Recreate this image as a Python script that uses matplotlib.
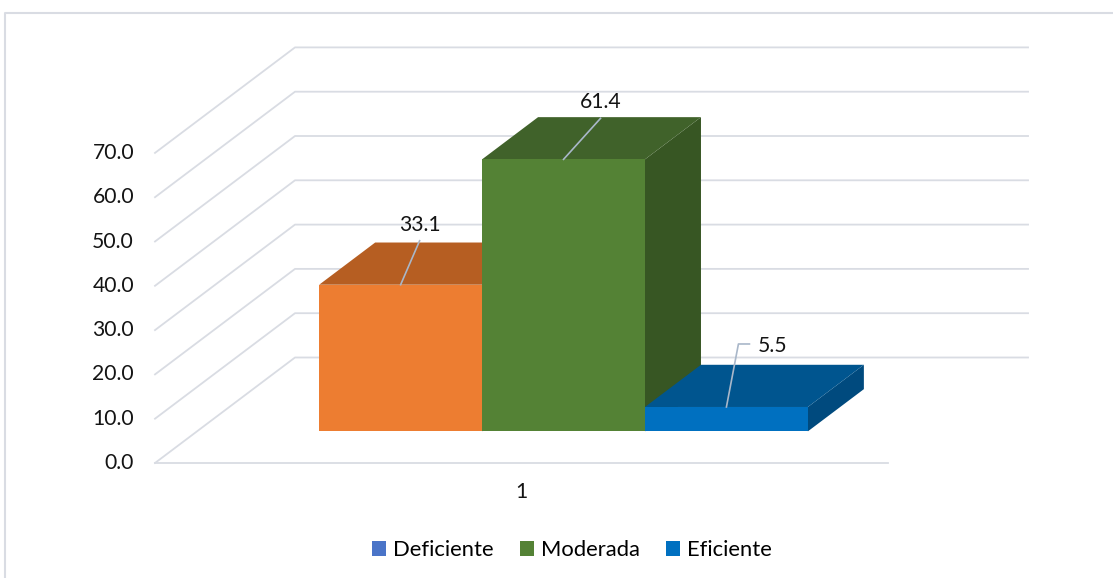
import matplotlib.pyplot as plt
from matplotlib.patches import Polygon, Patch
from matplotlib.lines import Line2D
import numpy as np

plt.rcParams['font.family'] = ['Lato', 'DejaVu Sans']

# data
series = ['Deficiente', 'Moderada', 'Eficiente']
values = [33.1, 61.4, 5.5]
category = '1'
yticks = np.arange(0, 80, 10)

# colours: front, top, side
front_cols = ['#ED7D31', '#548235', '#0070C0']
top_cols = ['#B65E22', '#40622A', '#00558F']
side_cols = ['#B65E22', '#375623', '#004A7E']
legend_cols = ['#4A74C8', '#548235', '#0070C0']
grid_col = '#D9DCE3'
lead_col = '#A9B7C9'
txt_col = '#141414'
fs = 15.2

W, H = 1113, 578
fig = plt.figure(figsize=(W / 100, H / 100), dpi=100)
ax = fig.add_axes([0, 0, 1, 1])
ax.axis('off')

# pixel scale of the front plane
ux, uy = 162.9, 4.43
ox, oy = 155, 463
ax.set_xlim(-ox / ux, (W - ox) / ux)
ax.set_ylim(-(H - oy) / uy, oy / uy)

# oblique depth vector and floor width (in bar widths)
DX, DY = 140 / ux, 105.5 / uy
floor_w = 4.5
gap = 0.75
d0, d1 = 0.3, 0.7


def proj(x, v, d):
    return (x + d * DX, v + d * DY)


# back wall / side wall gridlines
for v in yticks:
    pts = [proj(0, v, 0), proj(0, v, 1), proj(floor_w, v, 1)]
    ax.plot(*zip(*pts), color=grid_col, lw=1.3, zorder=1)
    ax.text(-21 / ux, v, '%.1f' % v, ha='right', va='center', fontsize=fs, color=txt_col)
ax.plot([0, floor_w], [0, 0], color=grid_col, lw=1.3, zorder=1)

ax.text(floor_w / 2, -6.5, category, ha='center', va='center', fontsize=fs, color=txt_col)

# bars
for i, val in enumerate(values):
    xl = gap + i
    xr = xl + 1
    side = [proj(xr, 0, d0), proj(xr, 0, d1), proj(xr, val, d1), proj(xr, val, d0)]
    top = [proj(xl, val, d0), proj(xr, val, d0), proj(xr, val, d1), proj(xl, val, d1)]
    front = [proj(xl, 0, d0), proj(xr, 0, d0), proj(xr, val, d0), proj(xl, val, d0)]
    ax.add_patch(Polygon(side, closed=True, fc=side_cols[i], ec='none', zorder=2 + i))
    ax.add_patch(Polygon(top, closed=True, fc=top_cols[i], ec='none', zorder=2 + i))
    ax.add_patch(Polygon(front, closed=True, fc=front_cols[i], ec='none', zorder=2 + i))

# data labels with leader lines
label_off = [(19, 60), (37, 57), (46, 61)]
for i, val in enumerate(values):
    ax_, ay_ = proj(gap + i + 0.5, val, d0)
    dxp, dyp = label_off[i]
    lx, ly = ax_ + dxp / ux, ay_ + dyp / uy
    if i == 2:
        pts = [(ax_, ay_), (ax_ + 12 / ux, ay_ + 63 / uy), (ax_ + 23 / ux, ay_ + 63 / uy)]
    else:
        pts = [(ax_, ay_), (lx, ly - 16 / uy)]
    ax.plot(*zip(*pts), color=lead_col, lw=1.2, zorder=10)
    ax.text(lx, ly, '%.1f' % val, ha='center', va='center', fontsize=fs, color=txt_col, zorder=11)

# legend
handles = [Patch(fc=c, ec='none') for c in legend_cols]
fig.legend(handles, series, loc='center', bbox_to_anchor=(572 / W, 1 - 550 / H), ncol=3,
           frameon=False, fontsize=fs + 0.6, handlelength=0.65, handleheight=0.65,
           handletextpad=0.3, columnspacing=1.2)

# chart frame
fig.add_artist(Line2D([5 / W, 5 / W, 1], [0, 1 - 13 / H, 1 - 13 / H],
                      transform=fig.transFigure, color=grid_col, lw=1.5))

fig.savefig('out.png', dpi=100)
